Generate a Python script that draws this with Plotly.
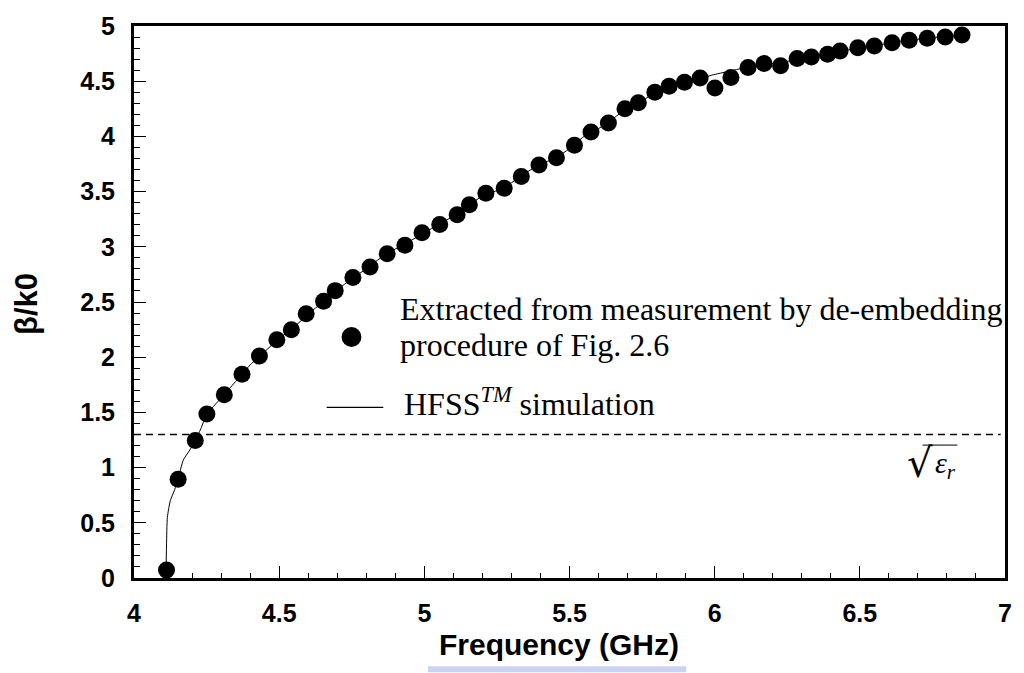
import plotly.graph_objects as go

# ---------------- data ----------------
meas_freq = [4.112, 4.152, 4.211, 4.251, 4.311, 4.372, 4.432, 4.492, 4.542, 4.593,
             4.653, 4.693, 4.754, 4.813, 4.872, 4.933, 4.992, 5.053, 5.113, 5.155,
             5.212, 5.275, 5.334, 5.395, 5.455, 5.517, 5.574, 5.634, 5.691, 5.737,
             5.794, 5.843, 5.896, 5.950, 6.001, 6.056, 6.115, 6.170, 6.227, 6.284,
             6.333, 6.389, 6.432, 6.493, 6.550, 6.611, 6.670, 6.732, 6.794, 6.852]
meas_beta = [0.072, 0.895, 1.246, 1.486, 1.659, 1.845, 2.010, 2.159, 2.249, 2.393,
             2.507, 2.603, 2.722, 2.818, 2.938, 3.013, 3.127, 3.201, 3.291, 3.381,
             3.486, 3.531, 3.636, 3.741, 3.807, 3.920, 4.040, 4.121, 4.250, 4.304,
             4.400, 4.454, 4.490, 4.528, 4.438, 4.534, 4.624, 4.660, 4.639, 4.705,
             4.720, 4.744, 4.774, 4.804, 4.818, 4.849, 4.870, 4.888, 4.900, 4.918]

sim_freq = [4.110, 4.112, 4.115, 4.125, 4.140, 4.152, 4.170, 4.190, 4.211, 4.230,
            4.250, 4.300, 4.350, 4.400, 4.450, 4.500, 4.550, 4.600, 4.650, 4.700,
            4.750, 4.800, 4.850, 4.900, 4.950, 5.000, 5.050, 5.100, 5.150, 5.200,
            5.250, 5.300, 5.350, 5.400, 5.450, 5.500, 5.550, 5.600, 5.650, 5.700,
            5.750, 5.800, 5.850, 5.900, 5.950, 5.990, 6.050, 6.100, 6.150, 6.200,
            6.250, 6.300, 6.350, 6.400, 6.450, 6.500, 6.550, 6.600, 6.650, 6.700,
            6.750, 6.800, 6.850]
sim_beta = [0.000, 0.300, 0.550, 0.700, 0.800, 0.900, 1.070, 1.150, 1.250, 1.350,
            1.480, 1.630, 1.780, 1.930, 2.050, 2.170, 2.270, 2.390, 2.500, 2.610,
            2.710, 2.800, 2.900, 2.980, 3.050, 3.130, 3.200, 3.280, 3.370, 3.460,
            3.510, 3.580, 3.670, 3.750, 3.800, 3.890, 4.000, 4.070, 4.160, 4.260,
            4.320, 4.410, 4.460, 4.490, 4.520, 4.555, 4.590, 4.620, 4.650, 4.660,
            4.680, 4.710, 4.730, 4.760, 4.780, 4.800, 4.820, 4.845, 4.865, 4.880,
            4.895, 4.905, 4.918]

sqrt_er = 1.3

x_tickvals = [4, 4.5, 5, 5.5, 6, 6.5, 7]
x_ticktext = ["4", "4.5", "5", "5.5", "6", "6.5", "7"]
y_tickvals = [0, 0.5, 1, 1.5, 2, 2.5, 3, 3.5, 4, 4.5, 5]
y_ticktext = ["0", "0.5", "1", "1.5", "2", "2.5", "3", "3.5", "4", "4.5", "5"]

legend_meas = ["Extracted from measurement by de-embedding", "procedure of Fig. 2.6"]
legend_sim = "HFSS<sup><i>TM</i></sup> simulation"
x_title = "Frequency (GHz)"
y_title = "β/k0"

# ---------------- layout geometry (pixels) ----------------
W, H = 1024, 673
L, R, T, B = 134, 1011, 21.5, 578


def px(xp):
    return (xp - L) / (R - L)


def py(yp):
    return (B - yp) / (B - T)


SANS = "Liberation Sans, Arial, sans-serif"
SERIF = "Liberation Serif, Times New Roman, serif"

fig = go.Figure()

fig.add_trace(go.Scatter(
    x=sim_freq, y=sim_beta, mode="lines",
    line=dict(color="black", width=1, shape="spline", smoothing=0.6),
    name="HFSS simulation", showlegend=False, hoverinfo="skip"))

fig.add_trace(go.Scatter(
    x=meas_freq, y=meas_beta, mode="markers",
    marker=dict(color="black", size=17, line=dict(width=0)),
    name="Measurement", showlegend=False))

fig.add_trace(go.Scatter(
    x=[4, 6.985], y=[sqrt_er, sqrt_er], mode="lines",
    line=dict(color="black", width=1.5, dash="7px,5px"),
    showlegend=False, hoverinfo="skip"))

axis_common = dict(
    showline=True, linewidth=3, linecolor="black", mirror=True,
    showgrid=False, zeroline=False,
    ticks="inside", ticklen=12, tickwidth=1, tickcolor="black",
    tickfont=dict(family=SANS, size=25, color="black", weight="bold"),
)

fig.update_xaxes(
    range=[4, 7], tickmode="array", tickvals=x_tickvals, ticktext=x_ticktext,
    minor=dict(ticks="inside", ticklen=5, tickwidth=1, tickcolor="black", dtick=0.1,
               tick0=4, showgrid=False),
    ticklabelstandoff=11, **axis_common)
fig.update_yaxes(
    range=[0, 5], tickmode="array", tickvals=y_tickvals, ticktext=y_ticktext,
    minor=dict(ticks="inside", ticklen=6, tickwidth=1, tickcolor="black", dtick=0.1,
               tick0=0, showgrid=False),
    ticklabelstandoff=11, **axis_common)

annotations = [
    dict(text=x_title, x=px(562), y=py(645), xref="paper", yref="paper",
         showarrow=False, xanchor="center", yanchor="middle",
         font=dict(family=SANS, size=30, color="black", weight="bold")),
    dict(text=y_title, x=px(25), y=py(302), xref="paper", yref="paper",
         showarrow=False, xanchor="center", yanchor="middle", textangle=-90,
         font=dict(family=SANS, size=31, color="black", weight="bold")),
    dict(text=legend_meas[0], x=px(400), y=py(307), xref="paper", yref="paper",
         showarrow=False, xanchor="left", yanchor="middle",
         font=dict(family=SERIF, size=32, color="black")),
    dict(text=legend_meas[1], x=px(400), y=py(343), xref="paper", yref="paper",
         showarrow=False, xanchor="left", yanchor="middle",
         font=dict(family=SERIF, size=32, color="black")),
    dict(text=legend_sim, x=px(404), y=py(401), xref="paper", yref="paper",
         showarrow=False, xanchor="left", yanchor="middle",
         font=dict(family=SERIF, size=32, color="black")),
    dict(text="√", x=px(940), y=py(462), xref="paper", yref="paper",
         showarrow=False, xanchor="right", yanchor="middle", borderpad=0,
         font=dict(family="DejaVu Serif, serif", size=40, color="black")),
    dict(text="<i>ε<sub>r</sub></i>", x=px(940), y=py(464), xref="paper", yref="paper",
         showarrow=False, xanchor="left", yanchor="middle", borderpad=0,
         font=dict(family=SERIF, size=30, color="black")),
]

shapes = [
    # legend marker
    dict(type="circle", xref="paper", yref="paper",
         x0=px(343), x1=px(363), y0=py(325), y1=py(345),
         fillcolor="black", line=dict(width=0)),
    # legend line
    dict(type="line", xref="paper", yref="paper",
         x0=px(328), x1=px(385), y0=py(406), y1=py(406),
         line=dict(color="black", width=1.2)),
    # radical vinculum
    dict(type="line", xref="paper", yref="paper",
         x0=px(928), x1=px(963), y0=py(444), y1=py(444),
         line=dict(color="black", width=1)),
    # faint blue scan artefact below the x title
    dict(type="rect", xref="paper", yref="paper",
         x0=px(430), x1=px(690), y0=py(667), y1=py(673),
         fillcolor="#b4c0ec", opacity=0.7, line=dict(width=0), layer="below"),
]

fig.update_layout(
    width=W, height=H,
    margin=dict(l=L, r=W - R, t=T, b=H - B, pad=0),
    paper_bgcolor="white", plot_bgcolor="white",
    showlegend=False,
    annotations=annotations, shapes=shapes,
)

fig.write_html("out.html")
